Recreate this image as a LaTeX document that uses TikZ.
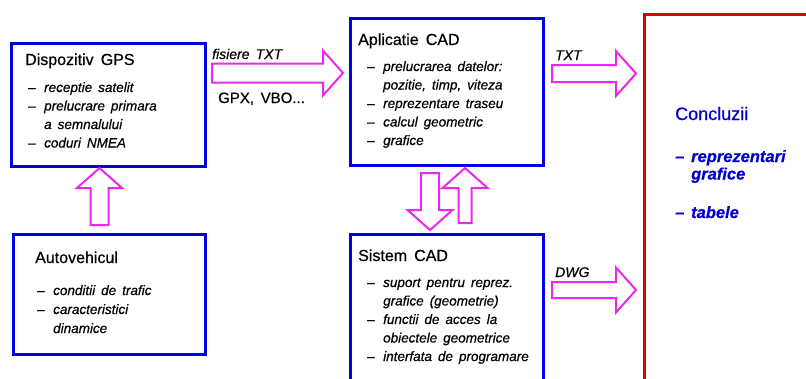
\documentclass[tikz,border=0pt]{standalone}
\usepackage{fontspec}
\setmainfont{Liberation Sans}[WordSpace=1.6,FakeBold=0.5]
\definecolor{boxblue}{RGB}{0,0,230}
\definecolor{concred}{RGB}{225,0,0}
\definecolor{arrmag}{RGB}{235,40,235}
\definecolor{conblue}{RGB}{0,0,205}
\newcommand{\itm}{\makebox[16pt][l]{--}}
\newcommand{\cnt}{\hspace*{16pt}}

\begin{document}
\begin{tikzpicture}[x=1pt,y=-1pt,
	box/.style={draw=boxblue,line width=3pt,anchor=north west,inner sep=0pt},
	ttl/.style={anchor=base west,inner sep=0pt,font=\fontsize{16}{18}\selectfont},
	item/.style={anchor=base west,inner sep=0pt,font=\fontsize{13.5}{16}\selectfont\itshape},
	lbl/.style={anchor=base west,inner sep=0pt,font=\fontsize{14}{16}\selectfont\itshape},
	concit/.style={item,font=\fontsize{16.5}{18}\selectfont\bfseries\itshape,text=conblue},
	fat/.style={draw=arrmag,line width=2pt,line join=miter},
	pics/fatarrow/.style args={#1/#2}{code={
		\draw[fat] (0,-#2) -- (#1-20,-#2) -- (#1-20,-22.5) -- (#1,0)
		-- (#1-20,22.5) -- (#1-20,#2) -- (0,#2) -- cycle;}}]
		\useasboundingbox (0,0) rectangle (806,378);
		\clip (0,0) rectangle (806,378);
		% boxes
		\node [box,minimum width=194,minimum height=123] (gps) at (10,42) {};
		\node [box,minimum width=193,minimum height=147] (aplic) at (349,17) {};
		\node [box,minimum width=192,minimum height=120] (auto) at (12,233) {};
		\node [box,minimum width=193,minimum height=160] (sistem) at (349,233) {};
		\node [box,draw=concred,line width=2.5pt,minimum width=200,minimum height=400] (concl) at (643,13) {};
		% titles
		\node [ttl] (gpst) at (25,65) {Dispozitiv GPS};
		\node [ttl] (aplict) at (358,45) {Aplicatie CAD};
		\node [ttl] (autot) at (35,263) {Autovehicul};
		\node [ttl] (sistt) at (358,261) {Sistem CAD};
		\node [ttl,font=\fontsize{18}{20}\selectfont,text=conblue] (conct) at (675,120) {Concluzii};
		% items
		\foreach \t [count=\i] in {{\itm receptie satelit},{\itm prelucrare primara},
			{\cnt a semnalului},{\itm coduri NMEA}}
		\node [item] (gps\i) at (28,{92+18.5*(\i-1)}) {\t};
		\foreach \t [count=\i] in {{\itm prelucrarea datelor:},{\cnt pozitie, timp, viteza},
			{\itm reprezentare traseu},{\itm calcul geometric},{\itm grafice}}
		\node [item] (aplic\i) at (367,{71+18.5*(\i-1)}) {\t};
		\foreach \t [count=\i] in {{\itm conditii de trafic},{\itm caracteristici},{\cnt dinamice}}
		\node [item] (auto\i) at (37,{295+19*(\i-1)}) {\t};
		\foreach \t [count=\i] in {{\itm suport pentru reprez.},{\cnt grafice (geometrie)},
			{\itm functii de acces la},{\cnt obiectele geometrice},{\itm interfata de programare}}
		\node [item] (sistem\i) at (367,{287+18.5*(\i-1)}) {\t};
		\node [concit] (concl1) at (675,162) {\itm reprezentari};
		\node [concit] (concl2) at (675,179.5) {\cnt grafice};
		\node [concit] (concl3) at (675,218) {\itm tabele};
		% arrows
		\pic at ([shift={(5,31)}]gps.north east) {fatarrow=131/9.5};
		\pic at ([shift={(7,56.5)}]aplic.north east) {fatarrow=84/8.5};
		\pic at ([shift={(7,57)}]sistem.north east) {fatarrow=84/8};
		\pic [rotate=90] at ([shift={(-10,-8)}]auto.north) {fatarrow=57/9};
		\pic [rotate=-90] at ([shift={(-17,6)}]aplic.south) {fatarrow=57/9};
		\pic [rotate=90] at ([shift={(18,-10)}]sistem.north) {fatarrow=55/6.5};
		% labels
		\node [lbl] (fis) at (212,59) {fisiere TXT};
		\node [lbl,font=\fontsize{15}{17}\selectfont] (gpx) at (218,103) {GPX, VBO...};
		\node [lbl] (txt) at (555,60) {TXT};
		\node [lbl] (dwg) at (555,277) {DWG};
	\end{tikzpicture}
\end{document}
